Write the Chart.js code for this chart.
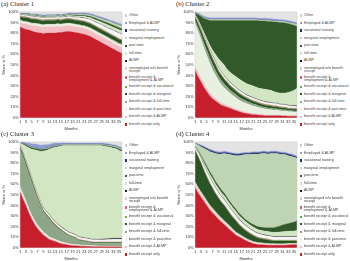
<!DOCTYPE html>
<html>
<head>
<meta charset="utf-8">
<script src="https://cdn.jsdelivr.net/npm/chart.js@4.4.1/dist/chart.umd.min.js"></script>
<style>
  html, body { margin: 0; padding: 0; background: #fff; }
  body { width: 350px; height: 261px; position: relative; overflow: hidden; }
  .panel { position: absolute; width: 175px; height: 130px; }
  .ptitle { position: absolute; left: 1px; top: 0px; font-family: "Liberation Serif", serif; font-size: 6.6px; color: #222; white-space: nowrap; }
  .cwrap { position: absolute; left: 0; top: 8px; width: 124px; height: 123px; }
  .legend { position: absolute; left: 124px; top: 0; width: 51px; height: 130px; font-family: "Liberation Sans", Arial, sans-serif; font-size: 3.7px; color: #444; }
  .item { position: absolute; left: 0; width: 51px; line-height: 3.3px; }
  .item i { position: absolute; left: 0.6px; top: 0.4px; width: 2.4px; height: 2.4px; }
  .item span { position: absolute; left: 5px; top: 0; white-space: nowrap; }
</style>
</head>
<body>
<div class="panel" style="left:0;top:0"><div class="ptitle">(a) Cluster 1</div><div class="cwrap"><canvas id="c1" width="124" height="123"></canvas></div><div class="legend" id="l1"></div></div>
<div class="panel" style="left:175px;top:0"><div class="ptitle">(b) Cluster 2</div><div class="cwrap"><canvas id="c2" width="124" height="123"></canvas></div><div class="legend" id="l2"></div></div>
<div class="panel" style="left:0;top:130px"><div class="ptitle">(c) Cluster 3</div><div class="cwrap"><canvas id="c3" width="124" height="123"></canvas></div><div class="legend" id="l3"></div></div>
<div class="panel" style="left:175px;top:130px"><div class="ptitle">(d) Cluster 4</div><div class="cwrap"><canvas id="c4" width="124" height="123"></canvas></div><div class="legend" id="l4"></div></div>
<script>
// months 1..36
const months = ['1','2','3','4','5','6','7','8','9','10','11','12','13','14','15','16','17','18','19','20','21','22','23','24','25','26','27','28','29','30','31','32','33','34','35','36'];
const yTicks = [0, 10, 20, 30, 40, 50, 60, 70, 80, 90, 100];

// stacking order, bottom to top
const seriesNames = [
  'benefit receipt only',
  'benefit receipt & ALMP',
  'benefit receipt & part-time',
  'benefit receipt & full-time',
  'benefit receipt & marginal',
  'benefit receipt & vocational',
  ['benefit receipt &', 'employment & ALMP'],
  ['unemployed w/o benefit', 'receipt'],
  'ALMP',
  'full-time',
  'part-time',
  'marginal employment',
  'vocational training',
  'Employed & ALMP',
  'Other'
];
const seriesColors = ['#c61f2b', '#f2bec3', '#e8f0e1', '#8da688', '#2b5424', '#6aab4d', '#e2606b', '#f6f6f6', '#1a1a1a', '#d2e6c4', '#31592a', '#bfd4b3', '#1f2e6e', '#8e9dd3', '#e3e3e3'];

// ---- Cluster 1
const c1Only = [86,84.5,83.5,83,82,81,80.5,80,79.5,80,80,80,80,80.5,80.5,81,81.5,81.5,81,80.5,80,79.5,79,78,77,75.5,74,72.5,71,69.5,68,66.5,65,63.5,62,61];
const c1BAlmp = [4,4.5,5,5,5,6,6,6,6,6,6,6,6,6,5.5,5.5,5.5,5.5,5.5,5.5,5.5,5.5,5.5,5.5,5.5,5.5,5.5,5.5,5.5,5.5,5.5,5.5,5.5,5.5,5.5,5.5];
const c1BPt = [2,2,2,2,2,2,2,2,2,2,2,2,2,2,2,2,2,2,2,2,2,2,2,2,2,2,2,2,2,2,2,2,2,2,2,2];
const c1BFt = [0.5,0.5,0.5,0.5,0.5,0.5,0.5,0.5,0.5,0.5,0.5,0.5,0.5,0.5,0.5,0.5,0.5,0.5,0.5,0.5,0.6,0.6,0.7,0.7,0.8,0.8,0.9,0.9,1,1,1,1,1,1,1,1];
const c1BMarg = [3,3.2,3.5,3.5,3.5,3.5,3.5,3.5,3.5,3.5,3.5,3.5,3.5,3.5,3.5,3.5,3.5,3.5,3.5,3.5,3.5,3.5,3.5,3.5,3.5,3.5,3.5,3.5,3.5,3.5,3.5,3.5,3.5,3.5,3.5,3.5];
const c1BVoc = [0.5,0.5,0.5,0.5,0.5,0.5,0.5,0.5,0.5,0.5,0.5,0.5,0.5,0.5,0.5,0.5,0.5,0.5,0.5,0.5,0.5,0.5,0.5,0.5,0.5,0.5,0.5,0.5,0.5,0.5,0.5,0.5,0.5,0.5,0.5,0.5];
const c1BEmpAlmp = [0.5,0.5,0.5,0.5,0.5,0.5,0.5,0.5,0.5,0.5,0.5,0.5,0.5,0.5,0.5,0.5,0.5,0.5,0.5,0.5,0.5,0.5,0.5,0.5,0.5,0.5,0.5,0.5,0.5,0.5,0.5,0.5,0.5,0.5,0.5,0.5];
const c1Unemp = [1,1.1,1.2,1.3,1.4,1.5,1.5,1.5,1.5,1.5,1.5,1.5,1.5,1.5,1.5,1.5,1.5,1.6,1.7,1.8,2,2.2,2.4,2.6,2.8,3,3.2,3.4,3.6,3.8,4,4.2,4.4,4.6,4.8,5];
const c1Almp = [0.3,0.3,0.3,0.3,0.3,0.3,0.3,0.3,0.3,0.3,0.3,0.3,0.3,0.3,0.3,0.3,0.3,0.3,0.3,0.3,0.3,0.3,0.3,0.3,0.3,0.3,0.3,0.3,0.3,0.3,0.3,0.3,0.3,0.3,0.3,0.3];
const c1Ft = [0.3,0.4,0.5,0.5,0.6,0.6,0.7,0.7,0.7,0.7,0.7,0.7,0.7,0.7,0.7,0.7,0.7,0.8,0.9,1,1.1,1.2,1.4,1.5,1.7,1.9,2,2.2,2.3,2.5,2.6,2.7,2.8,2.9,3,3];
const c1Pt = [0.3,0.3,0.4,0.4,0.5,0.5,0.5,0.5,0.5,0.5,0.5,0.5,0.5,0.5,0.5,0.5,0.5,0.6,0.7,0.8,0.9,1,1.1,1.2,1.3,1.4,1.5,1.5,1.6,1.7,1.8,1.8,1.9,2,2,2];
const c1Marg = [0.3,0.3,0.4,0.5,0.5,0.6,0.6,0.6,0.6,0.6,0.6,0.6,0.6,0.6,0.6,0.6,0.6,0.7,0.8,0.9,1,1.1,1.2,1.3,1.4,1.5,1.6,1.7,1.8,1.9,2,2.1,2.2,2.3,2.4,2.5];
const c1Voc = [0.2,0.2,0.2,0.2,0.2,0.2,0.2,0.2,0.2,0.2,0.2,0.2,0.2,0.2,0.2,0.2,0.2,0.2,0.2,0.2,0.2,0.2,0.2,0.2,0.2,0.2,0.2,0.2,0.2,0.2,0.2,0.2,0.2,0.2,0.2,0.2];
const c1EmpAlmp = [0.3,0.4,0.5,0.5,0.6,0.6,0.6,0.7,0.7,0.7,0.7,0.7,0.7,0.7,0.7,0.7,0.7,0.8,0.8,0.9,0.9,1,1,1.1,1.1,1.2,1.2,1.3,1.3,1.4,1.4,1.4,1.5,1.5,1.5,1.5];
const c1Other = [0.8,1.3,1,1.3,1.9,1.7,2.1,2.5,3,2.5,2.5,2.5,2.5,2,2.5,2,1.5,1,1.1,1.1,1,0.9,0.7,1.1,1.4,2.2,3.1,4,4.9,5.7,6.7,7.8,8.7,9.7,10.8,11.5];

// ---- Cluster 2
const c2Only = [45,39,34,29,25,21,18,16,14,12,11,10,9,8,7,6,5,4.5,4,3.5,3,3,2.5,2.5,2,2,2,2,2,2,1.8,1.8,1.6,1.6,1.5,1.5];
const c2BAlmp = [4,4,3.5,3.5,3,3,2.5,2.5,2,2,2,1.8,1.8,1.6,1.5,1.5,1.5,1.3,1.2,1.2,1.1,1,1,1,0.9,0.9,0.8,0.8,0.8,0.7,0.7,0.7,0.6,0.6,0.5,0.5];
const c2BPt = [40,39,37,34,31,28,25,22,19.5,17.5,15.5,14,12.5,11.5,10.5,9.5,9,8.5,8,7.5,7,6.5,6,5.5,5.5,5,5,4.5,4.5,4,4,4,3.5,3.5,3.5,3.5];
const c2BFt = [3,3.5,4,4.5,5,5,5,4.5,4,4,3.5,3.5,3,3,3,2.8,2.6,2.4,2.2,2,2,1.8,1.8,1.6,1.6,1.5,1.5,1.4,1.4,1.3,1.3,1.2,1.2,1.2,1.1,1.1];
const c2BMarg = [3,3.5,4,4.5,5,5,5,5,4.5,4.5,4.2,4,3.8,3.6,3.4,3.2,3,2.8,2.6,2.5,2.4,2.3,2.2,2.1,2,2,1.9,1.8,1.8,1.7,1.6,1.6,1.5,1.5,1.5,1.5];
const c2BVoc = [0.5,0.5,0.5,0.5,0.5,0.5,0.5,0.5,0.5,0.5,0.5,0.5,0.5,0.5,0.5,0.5,0.5,0.5,0.5,0.5,0.5,0.5,0.5,0.5,0.5,0.5,0.5,0.5,0.5,0.5,0.5,0.5,0.5,0.5,0.5,0.5];
const c2BEmpAlmp = [0.5,0.5,0.5,0.5,0.5,0.5,0.5,0.5,0.5,0.5,0.5,0.5,0.5,0.5,0.5,0.5,0.5,0.5,0.5,0.5,0.5,0.5,0.5,0.5,0.5,0.5,0.5,0.5,0.5,0.5,0.5,0.5,0.5,0.5,0.5,0.5];
const c2Unemp = [1,1.2,1.4,1.6,1.8,2,2,2,2,2,2,2,2,2,2,2,2,2,2,2,2,2,2,2,2,2,2,2,2,2,2,2,2,2,2,2];
const c2Almp = [0.5,0.5,0.5,0.5,0.5,0.5,0.5,0.5,0.5,0.5,0.5,0.5,0.5,0.5,0.5,0.5,0.5,0.5,0.5,0.5,0.5,0.5,0.5,0.5,0.5,0.5,0.5,0.5,0.5,0.5,0.5,0.5,0.5,0.5,0.5,0.5];
const c2Ft = [0.5,1.3,1.6,2.4,2.7,3.5,5,6.5,8.5,9.5,10.3,9.2,9.4,9.8,10.1,10.5,10.4,10.5,10.5,10.8,11,10.9,11,11.3,11.5,11.6,11.3,11,10,10.3,10.6,10.7,12.1,13.1,14.4,16.4];
const c2Pt = [1,4.5,9,13,18,23,28,32,36,39,42,46,49,51,53,55,57,58.5,60,61,62,63,63.5,64,64.5,64.5,65,65.5,66.5,66.5,66.5,66,65,63,61.5,58.5];
const c2Marg = [0.3,0.5,0.5,0.6,0.7,0.8,0.8,0.8,0.8,0.8,0.8,0.8,0.8,0.8,0.8,0.8,0.8,0.8,0.8,0.8,0.8,0.8,0.9,0.9,1,1,1,1,1.1,1.1,1.2,1.2,1.3,1.4,1.5,1.5];
const c2Voc = [0.3,0.3,0.3,0.3,0.3,0.3,0.3,0.3,0.3,0.3,0.3,0.3,0.3,0.3,0.3,0.3,0.3,0.3,0.3,0.3,0.3,0.3,0.3,0.3,0.3,0.3,0.3,0.3,0.3,0.3,0.3,0.3,0.3,0.3,0.3,0.3];
const c2EmpAlmp = [0.3,0.6,0.8,1,1.2,1.3,1.4,1.4,1.4,1.4,1.4,1.4,1.4,1.4,1.4,1.4,1.4,1.4,1.4,1.4,1.4,1.4,1.4,1.4,1.4,1.4,1.4,1.4,1.4,1.4,1.4,1.4,1.4,1.4,1.5,1.5];
const c2Other = [0.2,1.1,2.4,4.1,4.8,5.6,5.5,5.5,5.5,5.5,5.5,5.5,5.5,5.5,5.5,5.5,5.5,5.5,5.5,5.5,5.5,5.5,5.9,5.9,5.8,6.3,6.3,6.8,6.7,7.2,7.1,7.6,8,8.9,9.2,10.2];

// ---- Cluster 3
const c3Only = [53,46,40,33,27,22,18,15,12,10,8,7,6,5,4,3.5,3,2.5,2,2,1.8,1.6,1.5,1.4,1.3,1.2,1.2,1.1,1.1,1,1,1,1,1,1,1];
const c3BAlmp = [2,2,2,2,2,1.8,1.6,1.5,1.5,1.3,1.2,1.1,1,1,0.9,0.8,0.7,0.7,0.6,0.6,0.5,0.5,0.5,0.4,0.4,0.4,0.4,0.3,0.3,0.3,0.3,0.3,0.3,0.3,0.3,0.3];
const c3BPt = [3,3,2.5,2.5,2,2,2,1.8,1.5,1.5,1.3,1.2,1.1,1,1,0.9,0.8,0.8,0.7,0.7,0.6,0.6,0.6,0.5,0.5,0.5,0.5,0.5,0.5,0.5,0.5,0.5,0.5,0.5,0.5,0.5];
const c3BFt = [35,35,33.5,32.5,31,28.2,24.9,21.7,19,17.7,17,14.7,12.9,11.5,10.6,9.3,8,7,6.7,5.7,4.1,3.8,3.4,3.2,2.8,2.4,2.4,2.6,2.6,2.7,2.7,2.7,2.7,2.7,2.7,2.7];
const c3BMarg = [2,2,2,2,1.8,1.6,1.4,1.2,1,1,0.9,0.8,0.8,0.7,0.7,0.6,0.6,0.5,0.5,0.5,0.5,0.5,0.5,0.5,0.5,0.5,0.5,0.5,0.5,0.5,0.5,0.5,0.5,0.5,0.5,0.5];
const c3BVoc = [0.3,0.3,0.3,0.3,0.3,0.3,0.3,0.3,0.3,0.3,0.3,0.3,0.3,0.3,0.3,0.3,0.3,0.3,0.3,0.3,0.3,0.3,0.3,0.3,0.3,0.3,0.3,0.3,0.3,0.3,0.3,0.3,0.3,0.3,0.3,0.3];
const c3BEmpAlmp = [0.3,0.3,0.3,0.3,0.3,0.3,0.3,0.3,0.3,0.3,0.3,0.3,0.3,0.3,0.3,0.3,0.3,0.3,0.3,0.3,0.3,0.3,0.3,0.3,0.3,0.3,0.3,0.3,0.3,0.3,0.3,0.3,0.3,0.3,0.3,0.3];
const c3Unemp = [1,1.2,1.4,1.6,1.8,2,2,2,2,2,2,2,2,2,2,2,2,2,2,2,2,2,2,2,2,2,2,2,2.1,2.2,2.3,2.4,2.5,2.5,2.5,2.5];
const c3Almp = [0.5,0.5,0.5,0.5,0.5,0.5,0.5,0.5,0.5,0.5,0.5,0.5,0.5,0.5,0.5,0.5,0.5,0.5,0.5,0.5,0.5,0.5,0.5,0.5,0.5,0.5,0.5,0.5,0.6,0.7,0.8,0.9,1,1,1,1];
const c3Ft = [1.9,7.2,13.5,19.8,26.3,33.8,41,46.7,53.4,57.4,61.5,66.1,70.1,73.2,75.7,78.3,80.3,81.9,82.9,83.9,85.9,86.4,86.9,87.4,87.9,88.4,88.4,88.4,88.2,87.5,86.8,86.1,84.9,84.4,82.9,81.9];
const c3Pt = [0.5,0.8,1,1.2,1.4,1.5,1.5,1.5,1.5,1.3,1.1,1,0.9,0.8,0.7,0.6,0.6,0.6,0.6,0.6,0.6,0.6,0.6,0.6,0.6,0.6,0.6,0.6,0.7,0.8,0.9,1,1.1,1.2,1.3,1.4];
const c3Marg = [0.2,0.3,0.4,0.5,0.5,0.5,0.5,0.5,0.5,0.5,0.5,0.5,0.5,0.5,0.5,0.5,0.5,0.5,0.5,0.5,0.5,0.5,0.5,0.5,0.5,0.5,0.5,0.5,0.5,0.6,0.7,0.8,0.9,1,1,1];
const c3Voc = [0.3,0.3,0.3,0.3,0.3,0.3,0.3,0.3,0.3,0.3,0.3,0.3,0.3,0.3,0.3,0.3,0.3,0.3,0.3,0.3,0.3,0.3,0.3,0.3,0.3,0.3,0.3,0.3,0.3,0.3,0.3,0.3,0.3,0.3,0.3,0.3];
const c3EmpAlmp = [0.3,1,1.8,2.5,3,3.2,3.4,3.5,3.5,3.3,3,2.6,2.2,1.8,1.5,1.2,1,1,1,1,1,1,1,1,1,1,1,1,1,1,1,1,1,1,1,1];
const c3Other = [0.2,0.1,0.5,1,1.8,2,2.3,3.2,2.7,2.6,2.1,1.6,1.1,1.1,1,0.9,1.1,1.1,1.1,1.1,1.1,1.1,1.1,1.1,1.1,1.1,1.1,1.1,1,1.3,1.6,1.9,2.7,3,4.4,5.3];

// ---- Cluster 4
const c4Only = [57,52,48,44,40,36,33,30,27,24.5,22,19.5,17,14.5,12,10.5,9,7.5,6,5,4,3.5,3,3,2.8,2.6,2.5,2.5,2.5,2.5,2.5,2.6,2.8,3,3,3];
const c4BAlmp = [3,3,2.8,2.6,2.5,2.4,2.3,2.2,2,1.9,1.8,1.7,1.6,1.5,1.4,1.3,1.2,1.1,1,0.9,0.8,0.8,0.7,0.7,0.6,0.6,0.6,0.5,0.5,0.5,0.5,0.5,0.5,0.5,0.5,0.5];
const c4BPt = [1.5,1.5,1.5,1.5,1.5,1.4,1.4,1.3,1.3,1.2,1.2,1.1,1.1,1,1,0.9,0.9,0.8,0.8,0.8,0.7,0.7,0.7,0.6,0.6,0.6,0.6,0.6,0.5,0.5,0.5,0.5,0.5,0.5,0.5,0.5];
const c4BFt = [1,1,1,1,1,1,1,1,1,1,0.9,0.9,0.9,0.8,0.8,0.8,0.7,0.7,0.7,0.6,0.6,0.6,0.6,0.5,0.5,0.5,0.5,0.5,0.5,0.5,0.5,0.5,0.5,0.5,0.5,0.5];
const c4BMarg = [29.5,28.5,26.7,23.9,22,20.2,18.3,16.5,15.7,14.4,14.1,12.8,11.4,10.7,10.3,8.5,7.7,6.9,6.5,5.7,5.4,4.4,4,3.7,3.5,3.2,2.8,2.4,2.5,2.5,2.5,2.4,2.2,2,2,2];
const c4BVoc = [0.4,0.4,0.4,0.4,0.4,0.4,0.4,0.4,0.4,0.4,0.4,0.4,0.4,0.4,0.4,0.4,0.4,0.4,0.4,0.4,0.4,0.4,0.4,0.4,0.4,0.4,0.4,0.4,0.4,0.4,0.4,0.4,0.4,0.4,0.4,0.4];
const c4BEmpAlmp = [0.4,0.4,0.4,0.4,0.4,0.4,0.4,0.4,0.4,0.4,0.4,0.4,0.4,0.4,0.4,0.4,0.4,0.4,0.4,0.4,0.4,0.4,0.4,0.4,0.4,0.4,0.4,0.4,0.4,0.4,0.4,0.4,0.4,0.4,0.4,0.4];
const c4Unemp = [2,3,3.5,4,4.5,4.5,4.5,4.5,4.5,4.5,4.5,4.5,4.5,4.5,4.3,4.1,4,3.8,3.6,3.5,3.4,3.3,3.2,3.1,3,3,3,3,3,3,3,3,3,3,3,3];
const c4Almp = [0.5,0.5,0.5,0.5,0.5,0.5,0.5,0.5,0.5,0.5,0.5,0.5,0.5,0.5,0.5,0.5,0.5,0.5,0.5,0.5,0.5,0.5,0.5,0.5,0.5,0.5,0.5,0.5,0.5,0.5,0.5,0.5,0.5,0.5,0.5,0.5];
const c4Ft = [0.5,1,1.5,2,2.5,3,3.5,3.5,3.5,3.5,3.5,3.5,3.5,3.5,3.5,3.5,3.5,3.5,3.5,3.5,3.5,3.5,3.5,3.5,3.5,3.6,3.7,3.8,4,4.2,4.4,4.6,4.8,5,5.2,5.5];
const c4Pt = [0.5,1,1.5,2,2.2,2.4,2.5,2.5,2.5,2.5,2.5,2.3,2.2,2.1,2,2,2,2,2,2.2,2.4,2.6,2.8,3,3.3,3.6,4,4.5,5,5.5,6.5,7,7.5,8,8.5,9];
const c4Marg = [2.2,4.7,7.7,11.7,15,18.8,22.2,26.2,29.7,33.7,37.2,40.9,44.5,47.6,50.4,54.1,57.2,60.4,62.6,64.5,66.4,67.8,68.7,69.6,69.9,69.5,70,69.9,69.2,68,66.3,65.6,63.9,62.7,61,59.2];
const c4Voc = [0.3,0.6,0.9,1.1,1.2,1.3,1.3,1.3,1.3,1.3,1.3,1.3,1.3,1.3,1.3,1.3,1.3,1.3,1.3,1.3,1.3,1.3,1.3,1.3,1.3,1.3,1.3,1.3,1.3,1.3,1.3,1.3,1.3,1.3,1.3,1.3];
const c4EmpAlmp = [0.3,0.6,0.8,1,1,1,1,1,1,1,1,1,1,1,1,1,1,1,1,1,1,1,1,1,1,1,1,1,1,1,1,1,1,1,1,1];
const c4Other = [0.9,1.8,2.8,3.9,5.3,6.7,7.7,8.7,9.2,9.2,8.7,9.2,9.7,10.2,10.7,10.7,10.2,9.7,9.7,9.7,9.2,9.2,9.2,8.7,8.7,9.2,8.7,8.7,8.7,9.2,9.7,9.7,10.7,11.2,12.2,13.2];

const cluster1 = [c1Only, c1BAlmp, c1BPt, c1BFt, c1BMarg, c1BVoc, c1BEmpAlmp, c1Unemp, c1Almp, c1Ft, c1Pt, c1Marg, c1Voc, c1EmpAlmp, c1Other];
const cluster2 = [c2Only, c2BAlmp, c2BPt, c2BFt, c2BMarg, c2BVoc, c2BEmpAlmp, c2Unemp, c2Almp, c2Ft, c2Pt, c2Marg, c2Voc, c2EmpAlmp, c2Other];
const cluster3 = [c3Only, c3BAlmp, c3BPt, c3BFt, c3BMarg, c3BVoc, c3BEmpAlmp, c3Unemp, c3Almp, c3Ft, c3Pt, c3Marg, c3Voc, c3EmpAlmp, c3Other];
const cluster4 = [c4Only, c4BAlmp, c4BPt, c4BFt, c4BMarg, c4BVoc, c4BEmpAlmp, c4Unemp, c4Almp, c4Ft, c4Pt, c4Marg, c4Voc, c4EmpAlmp, c4Other];

const tickFont = { family: 'Liberation Sans', size: 4 };

// thin frame round the plot area
const frame = {
  id: 'frame',
  afterDatasetsDraw(chart) {
    const a = chart.chartArea, ctx = chart.ctx;
    ctx.save();
    ctx.strokeStyle = '#c8c8c8';
    ctx.lineWidth = 0.5;
    ctx.strokeRect(a.left, a.top, a.right - a.left, a.bottom - a.top);
    ctx.restore();
  }
};

function makeChart(id, values) {
  new Chart(document.getElementById(id), {
    type: 'line',
    data: {
      labels: months,
      datasets: values.map((vals, i) => ({
        label: Array.isArray(seriesNames[i]) ? seriesNames[i].join(' ') : seriesNames[i],
        data: vals,
        backgroundColor: seriesColors[i],
        borderColor: seriesColors[i],
        borderWidth: 0.3,
        pointRadius: 0,
        tension: 0,
        fill: i === 0 ? 'origin' : '-1'
      }))
    },
    options: {
      responsive: false,
      animation: false,
      layout: { padding: { left: 1, right: 2, top: 3, bottom: 0 } },
      plugins: { legend: { display: false }, tooltip: { enabled: false } },
      scales: {
        x: {
          grid: { display: false, drawTicks: false },
          border: { display: false },
          ticks: {
            autoSkip: false, maxRotation: 0, padding: 1.5, color: '#333', font: tickFont,
            callback: (v, i) => (i % 2 === 0 ? months[i] : '')
          },
          title: { display: true, text: 'Months', color: '#333', font: tickFont, padding: { top: 0.5, bottom: 0 } }
        },
        y: {
          stacked: true, min: 0, max: 100,
          grid: { display: false, drawTicks: false },
          border: { display: false },
          afterBuildTicks: (s) => { s.ticks = yTicks.map(v => ({ value: v })); },
          ticks: { padding: 1.5, color: '#333', font: tickFont, callback: v => v + '%' },
          title: { display: true, text: 'Share in %', color: '#333', font: tickFont, padding: { top: 0, bottom: 1 } }
        }
      }
    },
    plugins: [frame]
  });
}

function makeLegend(id) {
  const box = document.getElementById(id);
  let y = 14;
  for (let i = seriesNames.length - 1; i >= 0; i--) {
    const name = seriesNames[i];
    const lines = Array.isArray(name) ? name : [name];
    const item = document.createElement('div');
    item.className = 'item';
    item.style.top = y + 'px';
    const mark = document.createElement('i');
    mark.style.background = seriesColors[i];
    if (i === 7 || i === 14) mark.style.background = '#cfcfcf';
    const text = document.createElement('span');
    text.innerHTML = lines.join('<br>');
    item.appendChild(mark);
    item.appendChild(text);
    box.appendChild(item);
    y += 7.55 + (lines.length > 1 ? 1.6 : 0);
  }
}

makeChart('c1', cluster1);
makeChart('c2', cluster2);
makeChart('c3', cluster3);
makeChart('c4', cluster4);
['l1', 'l2', 'l3', 'l4'].forEach(makeLegend);
</script>
</body>
</html>
